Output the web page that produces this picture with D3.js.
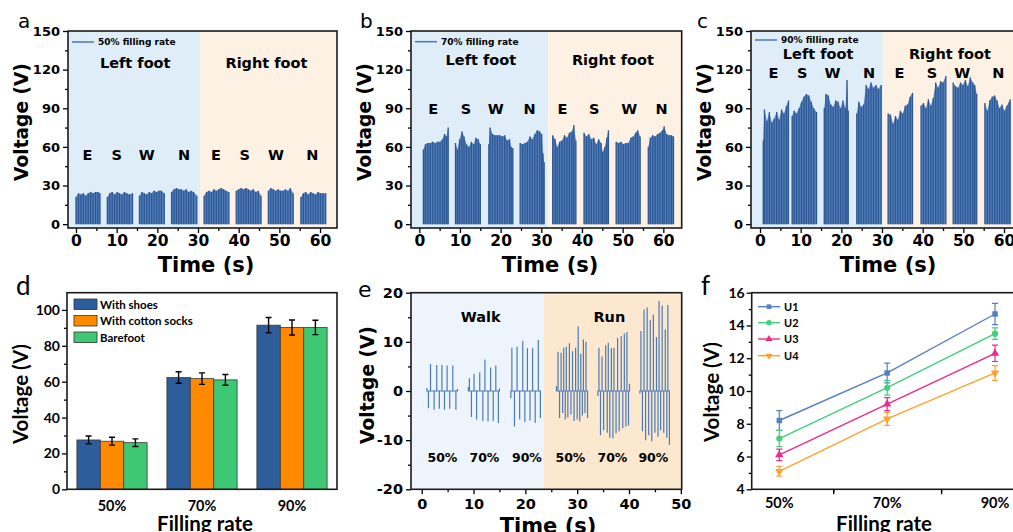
<!DOCTYPE html>
<html><head><meta charset="utf-8">
<script src="https://cdn.jsdelivr.net/npm/d3@7"></script>
<style>body{margin:0;background:#fff}svg{display:block}</style>
</head><body>
<svg id="c" width="1013" height="532"></svg>
<script>
// ---------------- DATA ----------------
// Panels a-c: peak envelope [time (s), voltage (V)] for each stepping segment
const aSegs = [
 [[0.0,21],[0.6,24],[1.2,23],[1.8,24],[2.4,22],[3.0,24],[3.6,25],[4.2,24],[4.8,25],[5.4,25],[5.9,24]],
 [[7.7,21],[8.3,24],[8.9,25],[9.5,23],[10.1,25],[10.7,24],[11.3,23],[11.9,25],[12.5,24],[13.1,23],[13.9,24]],
 [[15.6,22],[16.2,25],[16.8,24],[17.4,23],[18.0,25],[18.6,24],[19.2,26],[19.8,25],[20.4,26],[21.0,26],[21.7,24]],
 [[23.5,25],[24.1,27],[24.7,28],[25.3,27],[25.9,27],[26.5,26],[27.1,27],[27.7,25],[28.3,26],[28.9,25],[29.7,22]],
 [[31.5,22],[32.1,25],[32.7,26],[33.3,25],[33.9,27],[34.5,26],[35.1,27],[35.7,28],[36.3,27],[36.9,26],[37.6,25]],
 [[39.4,26],[40.0,27],[40.6,28],[41.2,27],[41.8,28],[42.4,27],[43.0,26],[43.6,27],[44.2,25],[44.8,26],[45.5,22]],
 [[47.3,26],[47.9,28],[48.5,27],[49.1,26],[49.7,27],[50.3,26],[50.9,26],[51.5,27],[52.1,26],[52.7,28],[53.4,24]],
 [[55.3,21],[55.9,24],[56.5,25],[57.1,23],[57.7,25],[58.3,24],[58.9,23],[59.5,25],[60.1,24],[60.7,24],[61.4,24]]
];
const bSegs = [
 [[1.0,58],[1.5,62],[2.1,63],[2.7,63],[3.3,64],[3.9,63],[4.5,64],[5.1,64],[5.7,66],[6.2,70],[6.7,68],[7.1,75]],
 [[8.9,63],[9.4,58],[9.9,66],[10.5,72],[11.0,68],[11.6,62],[12.2,60],[12.8,64],[13.4,62],[13.9,67],[14.5,66],[15.0,62]],
 [[17.1,62],[17.4,75],[18.0,70],[18.6,69],[19.2,69],[19.8,69],[20.4,68],[21.0,69],[21.6,65],[22.2,66],[22.6,60],[23.0,59]],
 [[24.8,63],[25.4,62],[26.0,63],[26.6,64],[27.2,68],[27.8,66],[28.4,70],[29.0,73],[29.6,72],[30.1,70],[30.4,55],[30.7,48]],
 [[32.8,69],[33.4,66],[33.9,60],[34.5,64],[35.1,65],[35.7,69],[36.3,67],[36.9,71],[37.5,72],[38.0,77],[38.5,65]],
 [[40.5,71],[41.1,68],[41.7,70],[42.3,66],[42.9,67],[43.5,62],[44.1,66],[44.7,63],[45.1,56],[45.6,60],[46.1,67],[46.5,73]],
 [[48.4,64],[49.0,63],[49.6,64],[50.2,62],[50.8,63],[51.4,63],[52.0,67],[52.6,68],[53.2,71],[53.7,73],[54.3,68]],
 [[56.3,60],[56.8,67],[57.4,69],[58.0,68],[58.6,70],[59.2,71],[59.8,73],[60.2,76],[60.8,70],[61.4,69],[62.0,69],[62.5,68]]
];
const cSegs = [
 [[0.8,65],[1.1,89],[1.7,80],[2.3,87],[2.9,79],[3.5,82],[4.1,87],[4.7,81],[5.3,89],[5.9,86],[6.5,92],[7.0,96]],
 [[7.9,84],[8.4,88],[9.0,86],[9.6,90],[10.2,95],[10.8,99],[11.4,101],[12.0,100],[12.6,95],[13.2,90],[13.9,87]],
 [[15.8,90],[16.2,101],[16.8,100],[17.4,93],[18.0,91],[18.6,96],[19.2,95],[19.8,90],[20.4,96],[21.0,90],[21.4,112],[21.7,88]],
 [[23.8,86],[24.3,95],[24.9,91],[25.5,93],[26.1,108],[26.7,105],[27.3,110],[27.9,106],[28.5,108],[29.1,105],[29.8,108]],
 [[31.5,86],[32.1,85],[32.7,78],[33.3,84],[33.9,81],[34.5,88],[35.1,86],[35.7,92],[36.3,93],[36.9,99],[37.5,102]],
 [[39.6,92],[40.2,94],[40.8,90],[41.4,97],[42.0,92],[42.6,98],[43.2,110],[43.8,106],[44.4,111],[45.0,110],[45.7,115]],
 [[47.5,110],[48.1,107],[48.7,106],[49.3,110],[49.9,108],[50.5,112],[51.1,107],[51.7,114],[52.3,110],[52.8,108],[53.3,101]],
 [[55.3,94],[55.9,88],[56.5,96],[57.1,99],[57.7,100],[58.3,96],[58.9,90],[59.5,93],[60.1,88],[60.7,92],[61.3,95],[61.5,97]]
];
const directions = ["E","S","W","N","E","S","W","N"];
const aDirT = [2.8,10.0,17.4,26.6,34.4,41.5,49.2,58.1];
const bDirT = [3.4,11.5,18.8,27.1,35.2,43.0,51.6,59.6];
const cDirT = [3.3,10.4,17.8,26.8,34.3,42.3,49.7,58.6];
const footSplit = {a:30.5, b:31.7, c:30.2};

// Panel d
const fillRates = ["50%","70%","90%"];
const barSeries = ["With shoes","With cotton socks","Barefoot"];
const dShoes = [27.5,62.3,91.5];
const dSocks = [26.8,61.7,90.2];
const dBare  = [26.0,61.0,90.2];
const dShoesErr = [2.2,3.2,4.3];
const dSocksErr = [2.2,3.2,4.2];
const dBareErr  = [2.1,3.0,4.0];

// Panel e: spikes [time (s), voltage (V)] for each segment
const eSegs = [
 [[1.0,0.6],[1.3,-3.5],[1.7,5.5],[2.4,-3.8],[2.9,5.3],[3.4,-3.6],[3.9,5.3],[4.4,-3.8],[4.9,5.2],[5.4,-3.6],[6.0,5.2],[6.6,-3.8],[6.9,0.4]],
 [[9.0,0.8],[9.2,2.6],[9.6,-5.3],[10.1,3.5],[10.6,-5.8],[11.2,3.8],[11.8,-6.1],[12.2,6.4],[12.8,-6.2],[13.3,4.8],[13.8,-6.1],[14.3,5.2],[14.8,-6.5],[15.0,0.5]],
 [[17.2,-1.5],[17.4,8.8],[17.9,-7.2],[18.4,9.0],[18.9,-5.8],[19.5,10.2],[19.9,-6.3],[20.4,8.7],[20.9,-6.0],[21.4,8.7],[21.9,-6.5],[22.5,10.4],[22.9,-5.5]],
 [[26.0,1.0],[26.3,8.0],[26.6,-5.5],[26.9,7.8],[27.2,-4.5],[27.4,8.8],[27.7,-5.8],[27.9,9.0],[28.2,-5.4],[28.5,9.7],[28.8,-4.8],[29.1,8.1],[29.4,-6.1],[29.7,8.8],[30.0,-5.8],[30.2,13.1],[30.5,-6.2],[30.7,7.6],[31.0,-5.0],[31.2,10.5],[31.5,-4.5],[31.7,10.0],[32.0,-5.5]],
 [[34.0,-1.0],[34.2,8.8],[34.5,-9.0],[34.8,7.0],[35.1,-8.0],[35.5,9.3],[35.8,-8.5],[36.0,9.8],[36.3,-9.5],[36.6,8.7],[36.9,-9.6],[37.1,8.8],[37.5,-8.6],[37.8,10.8],[38.1,-8.2],[38.5,11.2],[38.8,-7.6],[39.1,11.7],[39.4,-7.2],[39.6,12.0],[39.9,-7.0],[40.1,1.5]],
 [[42.1,-0.5],[42.3,12.2],[42.6,-8.2],[42.9,16.6],[43.2,-10.0],[43.5,17.0],[43.8,-9.0],[44.1,14.4],[44.4,-10.2],[44.7,15.5],[45.0,-8.5],[45.3,11.0],[45.6,-9.3],[45.8,18.3],[46.1,-8.0],[46.4,17.4],[46.7,-8.5],[47.0,12.5],[47.3,-9.5],[47.5,17.5],[47.8,-11.0]]
];
const eLabels = ["50%","70%","90%","50%","70%","90%"];
const eLabelT = [4.0,12.1,20.3,28.7,36.8,44.7];
const eSplit = 23.5;

// Panel f
const fSeries = ["U1","U2","U3","U4"];
const fU1 = [8.2,11.1,14.7], fU1e = [0.6,0.6,0.65];
const fU2 = [7.1,10.2,13.5], fU2e = [0.5,0.45,0.35];
const fU3 = [6.1,9.2,12.3],  fU3e = [0.35,0.4,0.5];
const fU4 = [5.1,8.3,11.1],  fU4e = [0.3,0.4,0.45];

// ---------------- DRAW ----------------
const svg = d3.select("#c");
const F1 = "'DejaVu Sans', sans-serif";
const F2 = "Lato, 'Open Sans', sans-serif";

function makePanel(o){
  const g = svg.append("g");
  const x = d3.scaleLinear().domain(o.xd).range([o.l, o.r]);
  const y = d3.scaleLinear().domain(o.yd).range([o.b, o.t]);
  g.append("clipPath").attr("id","clip"+o.id).append("rect")
    .attr("x",o.l).attr("y",o.t).attr("width",o.r-o.l).attr("height",o.b-o.t);
  return {g,x,y,o};
}
function styleAxis(sel, font, fs){
  sel.select(".domain").remove();
  sel.selectAll("line").attr("stroke","#000").attr("stroke-width",1.3);
  sel.selectAll("text").attr("font-family",font).attr("font-size",fs)
     .attr("font-weight","bold").attr("fill","#000");
}
function axes(p,c){
  const {g,x,y,o} = p;
  if (c.yMinor) g.append("g").attr("transform",`translate(${o.l},0)`)
      .call(d3.axisLeft(y).tickValues(c.yMinor).tickSize(3).tickFormat("")).call(s=>styleAxis(s,c.font,c.yfs));
  g.append("g").attr("transform",`translate(${o.l},0)`)
      .call(d3.axisLeft(y).tickValues(c.yTicks).tickSize(5).tickPadding(c.yPad).tickFormat(d=>d))
      .call(s=>styleAxis(s,c.font,c.yfs));
  if (c.xMinor) g.append("g").attr("transform",`translate(0,${o.b})`)
      .call(d3.axisBottom(x).tickValues(c.xMinor).tickSize(3).tickFormat("")).call(s=>styleAxis(s,c.font,c.xfs));
  if (c.xTicks) g.append("g").attr("transform",`translate(0,${o.b})`)
      .call(d3.axisBottom(x).tickValues(c.xTicks).tickSize(5).tickPadding(c.xPad).tickFormat(c.xFmt||(d=>d)))
      .call(s=>styleAxis(s,c.font,c.xfs));
  g.append("rect").attr("x",o.l).attr("y",o.t).attr("width",o.r-o.l).attr("height",o.b-o.t)
    .attr("fill","none").attr("stroke","#1a1a1a").attr("stroke-width",1.6);
}
function txt(g,x,y,s,font,fs,opt={}){
  const t = g.append("text").attr("x",x).attr("y",y).text(s)
    .attr("font-family",font).attr("font-size",fs)
    .attr("font-weight",opt.w||"bold").attr("fill","#000")
    .attr("text-anchor",opt.a||"middle");
  if (opt.rot) t.attr("transform",`rotate(-90,${x},${y})`);
  return t;
}

// ---- panels a, b, c ----
const topPanels = [
  {id:"a", segs:aSegs, dirT:aDirT, l:68, r:337, zero:76, legend:"50% filling rate",
   dirV:49.6, footV:121, legY:42, titleX:206, ytX:27.5, labX:18},
  {id:"b", segs:bSegs, dirT:bDirT, l:411, r:681.7, zero:419.3, legend:"70% filling rate",
   dirV:85.8, footV:123.3, legY:41.7, titleX:550, ytX:371, labX:360},
  {id:"c", segs:cSegs, dirT:cDirT, l:751, r:1021, zero:760, legend:"90% filling rate",
   dirV:113.7, footV:128.5, legY:40, titleX:888, ytX:711, labX:697}
];
topPanels.forEach(P=>{
  const pxs = 4.067;
  const xd = [(P.l-P.zero)/pxs, (P.r-P.zero)/pxs];
  const p = makePanel({id:P.id, l:P.l, r:P.r, t:31, b:228, xd:xd, yd:[-3,150]});
  const {g,x,y} = p;
  const split = footSplit[P.id];
  const bg = g.append("g").attr("clip-path",`url(#clip${P.id})`);
  bg.append("rect").attr("x",x(xd[0])).attr("y",y(150)).attr("width",x(split)-x(xd[0])).attr("height",y(-3)-y(150)).attr("fill","#deedf7");
  bg.append("rect").attr("x",x(split)).attr("y",y(150)).attr("width",x(xd[1])-x(split)).attr("height",y(-3)-y(150)).attr("fill","#fdf1e4");
  const area = d3.area().x(d=>x(d[0])).y0(y(0)).y1(d=>y(d[1]));
  P.segs.forEach(seg=>{
    bg.append("path").datum(seg).attr("d",area).attr("fill","#5580ba");
    bg.selectAll(null).data(seg).join("line")
      .attr("x1",d=>x(d[0])).attr("x2",d=>x(d[0])).attr("y1",y(0)).attr("y2",d=>y(d[1]))
      .attr("stroke","#2c5795").attr("stroke-width",1.3);
  });
  // legend
  g.append("line").attr("x1",P.l+4).attr("x2",P.l+26).attr("y1",P.legY).attr("y2",P.legY)
    .attr("stroke","#4a78b5").attr("stroke-width",1.5);
  txt(g,P.l+30,P.legY+3.3,P.legend,F1,9,{a:"start"});
  txt(g,x(split/2+xd[0]/2+0.3),y(P.footV),"Left foot",F1,14.5);
  txt(g,x((split+xd[1])/2-0.5),y(P.footV),"Right foot",F1,14.5);
  P.dirT.forEach((t,i)=>txt(g,x(t),y(P.dirV),directions[i],F1,14.5));
  axes(p,{font:F1, yfs:13, xfs:15.5, yTicks:[0,30,60,90,120,150], yMinor:[15,45,75,105,135],
          xTicks:[0,10,20,30,40,50,60], xMinor:[5,15,25,35,45,55], yPad:3, xPad:2});
  txt(svg,P.titleX,272,"Time (s)",F1,21);
  txt(svg,P.ytX,122,"Voltage (V)",F1,18.6,{rot:true});
  txt(svg,P.labX,28,P.id,F1,20,{w:"normal",a:"start"});
});

// ---- panel d ----
(function(){
  const p = makePanel({id:"d", l:67, r:337, t:292.7, b:489.3, xd:[0.5,3.5], yd:[0,109.6]});
  const {g,x,y} = p;
  const cols = ["#2e5d9b","#ff8a00","#3ec873"];
  const vals = [dShoes,dSocks,dBare], errs = [dShoesErr,dSocksErr,dBareErr];
  const bw = 0.26;
  vals.forEach((v,si)=>{
    v.forEach((val,ci)=>{
      const cx = ci+1 + (si-1)*bw;
      g.append("rect").attr("x",x(cx-bw/2)).attr("width",x(cx+bw/2)-x(cx-bw/2))
        .attr("y",y(val)).attr("height",y(0)-y(val))
        .attr("fill",cols[si]).attr("stroke","#3a3a3a").attr("stroke-width",0.8);
      const e = errs[si][ci];
      g.append("path").attr("d",`M${x(cx)-3},${y(val+e)}H${x(cx)+3}M${x(cx)},${y(val+e)}V${y(val-e)}M${x(cx)-3},${y(val-e)}H${x(cx)+3}`)
        .attr("stroke","#000").attr("stroke-width",1.4).attr("fill","none");
    });
  });
  // legend
  barSeries.forEach((s,i)=>{
    const yy = 299 + i*16.5;
    g.append("rect").attr("x",74).attr("y",yy).attr("width",23).attr("height",10.5)
      .attr("fill",cols[i]).attr("stroke","#333").attr("stroke-width",0.8);
    txt(g,100,yy+9.5,s,F2,11.5,{a:"start"});
  });
  axes(p,{font:F2, yfs:14, yTicks:[0,20,40,60,80,100], yMinor:[10,30,50,70,90], yPad:2});
  fillRates.forEach((f,i)=>txt(g,x(i+1),510.5,f,F2,14.5));
  txt(svg,205,531,"Filling rate",F2,20.5);
  txt(svg,27.5,394,"Voltage (V)",F2,20.5,{rot:true});
  txt(svg,16,295,"d",F2,26,{w:"normal",a:"start"});
})();

// ---- panel e ----
(function(){
  const pxs = 5.1825, zero = 421.7;
  const xd = [(411-zero)/pxs, (681.7-zero)/pxs];
  const p = makePanel({id:"e", l:411, r:681.7, t:292.7, b:489.3, xd:xd, yd:[-20,20]});
  const {g,x,y} = p;
  const bg = g.append("g").attr("clip-path","url(#clipe)");
  bg.append("rect").attr("x",x(xd[0])).attr("y",y(20)).attr("width",x(eSplit)-x(xd[0])).attr("height",y(-20)-y(20)).attr("fill","#eef4fb");
  bg.append("rect").attr("x",x(eSplit)).attr("y",y(20)).attr("width",x(xd[1])-x(eSplit)).attr("height",y(-20)-y(20)).attr("fill","#fbe8cf");
  eSegs.forEach(seg=>{
    let d = `M${x(seg[0][0])},${y(0)}`;
    seg.forEach(s=>{ d += `L${x(s[0])},${y(0)}L${x(s[0])},${y(s[1])}L${x(s[0])},${y(0)}`; });
    bg.append("path").attr("d",d).attr("fill","none").attr("stroke","#4a7bb9").attr("stroke-width",1.2);
  });
  txt(g,x(11.4),322,"Walk",F1,14.5);
  txt(g,x(36.2),322,"Run",F1,14.5);
  eLabels.forEach((s,i)=>txt(g,x(eLabelT[i]),y(-14.4),s,F1,12.5));
  axes(p,{font:F1, yfs:14.5, xfs:14.5, yTicks:[-20,-10,0,10,20], yMinor:[-15,-5,5,15],
          xTicks:[0,10,20,30,40,50], xMinor:[5,15,25,35,45], yPad:3, xPad:4});
  txt(svg,548,533,"Time (s)",F1,21);
  txt(svg,374,385,"Voltage (V)",F1,18.6,{rot:true});
  txt(svg,358,297,"e",F1,22,{w:"normal",a:"start"});
})();

// ---- panel f ----
(function(){
  const p = makePanel({id:"f", l:751.7, r:1022, t:292.7, b:489.3, xd:[0.744,3.25], yd:[4,16]});
  const {g,x,y} = p;
  const cols = ["#5580bf","#3fd17c","#ee2a8b","#ffa12b"];
  const vals = [fU1,fU2,fU3,fU4], errs=[fU1e,fU2e,fU3e,fU4e];
  const shapes = [d3.symbolSquare, d3.symbolCircle, d3.symbolTriangle, d3.symbolTriangle];
  const line = d3.line().x((d,i)=>x(i+1)).y(d=>y(d));
  vals.forEach((v,si)=>{
    g.append("path").datum(v).attr("d",line).attr("fill","none").attr("stroke",cols[si]).attr("stroke-width",1.4);
    v.forEach((val,i)=>{
      const e = errs[si][i], cx = x(i+1);
      g.append("path").attr("d",`M${cx-3},${y(val+e)}H${cx+3}M${cx},${y(val+e)}V${y(val-e)}M${cx-3},${y(val-e)}H${cx+3}`)
        .attr("stroke",cols[si]).attr("stroke-width",1.2).attr("fill","none");
      g.append("path").attr("d",d3.symbol().type(shapes[si]).size(30)())
        .attr("transform",`translate(${cx},${y(val)})${si===3?" rotate(180)":""}`).attr("fill",cols[si]);
    });
  });
  fSeries.forEach((s,i)=>{
    const yy = [306.7,322.7,339,355.7][i];
    g.append("line").attr("x1",758).attr("x2",780).attr("y1",yy).attr("y2",yy).attr("stroke",cols[i]).attr("stroke-width",1.4);
    g.append("path").attr("d",d3.symbol().type(shapes[i]).size(22)())
      .attr("transform",`translate(769,${yy})${i===3?" rotate(180)":""}`).attr("fill",cols[i]);
    txt(g,784,yy+4,s,F2,11,{a:"start"});
  });
  axes(p,{font:F2, yfs:14, xfs:14, yTicks:[4,6,8,10,12,14,16], yMinor:[5,7,9,11,13,15],
          xMinor:[1.5,2.5], yPad:2});
  g.append("g").attr("transform",`translate(0,${p.o.b})`)
    .call(d3.axisBottom(x).tickValues([1.5,2.5]).tickSize(5).tickFormat("")).call(s=>styleAxis(s,F2,14));
  fillRates.forEach((f,i)=>txt(g,x(i+1),507.5,f,F2,14.5));
  txt(svg,884,531,"Filling rate",F2,20.5);
  txt(svg,719,392,"Voltage (V)",F2,20.5,{rot:true});
  txt(svg,701,295,"f",F2,26,{w:"normal",a:"start"});
})();
</script>
</body></html>
